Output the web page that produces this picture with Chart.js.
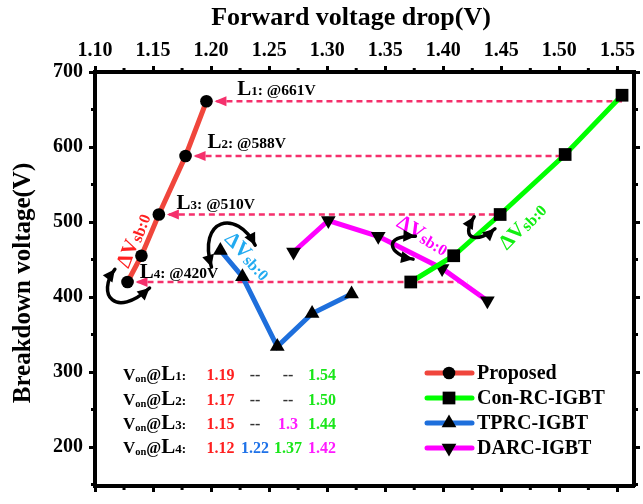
<!DOCTYPE html>
<html>
<head>
<meta charset="utf-8">
<script src="https://cdn.jsdelivr.net/npm/chart.js@4.4.0/dist/chart.umd.min.js"></script>
<style>
body { margin: 0; background: #fff; }
#wrap { width: 643px; height: 504px; }
</style>
</head>
<body>
<div id="wrap"><canvas id="chart"></canvas></div>
<script>
// values (x: forward voltage drop in V, y: breakdown voltage in V)
const proposedX = [1.128, 1.140, 1.155, 1.178, 1.196];
const proposedY = [420, 455, 510, 588, 661];
const conRcX = [1.372, 1.409, 1.449, 1.505, 1.554];
const conRcY = [420, 455, 510, 590, 669];
const tprcX = [1.208, 1.227, 1.257, 1.287, 1.321];
const tprcY = [462, 427, 334, 378, 404];
const darcX = [1.271, 1.301, 1.344, 1.399, 1.438];
const darcY = [460, 502, 481, 438, 395];

// breakdown levels L1..L4, dashed guides run from the proposed point to the right
const levelNames = ['1', '2', '3', '4'];
const levelV = [661, 588, 510, 420];
const levelStartX = [proposedX[4], proposedX[3], proposedX[2], proposedX[0]];
const levelEndX = [1.554, 1.505, 1.449, 1.421];

const xTicks = [1.10, 1.15, 1.20, 1.25, 1.30, 1.35, 1.40, 1.45, 1.50, 1.55];
const yTicks = [200, 300, 400, 500, 600, 700];

// Von table
const tableVals = [
  ['1.19', '--', '--', '1.54'],
  ['1.17', '--', '--', '1.50'],
  ['1.15', '--', '1.3', '1.44'],
  ['1.12', '1.22', '1.37', '1.42']
];
const tableCols = [
  ['red', 'dash', 'dash', 'green'],
  ['red', 'dash', 'dash', 'green'],
  ['red', 'dash', 'magenta', 'green'],
  ['red', 'blue', 'green', 'magenta']
];

const F = "'Liberation Serif', 'Times New Roman', serif";
const C = { red: '#ff1f1f', blue: '#1f72e8', green: '#19e619', magenta: '#ff19ff', dash: '#333' };
const pink = '#f5306c';

// text annotations, placed in data units
const levelLabels = [
  { x: 1.2226, y: 670 }, { x: 1.1969, y: 598.7 }, { x: 1.1703, y: 518 }, { x: 1.1386, y: 424.7 }
];
const dvLabels = [
  { x: 1.1321, y: 476, rot: -69, color: '#ff2020' },
  { x: 1.2324, y: 455.8, rot: 45.6, color: '#22aaf0' },
  { x: 1.3829, y: 483.8, rot: 30.5, color: '#ff00ff' },
  { x: 1.4673, y: 495.5, rot: -46, color: '#11ee11' }
];
const curveArrows = [
  [[1.1171, 437], [1.1010, 404], [1.1171, 370], [1.1470, 412]],
  [[1.2003, 440], [1.188, 505], [1.222, 518], [1.2380, 469]],
  [[1.3760, 481], [1.3470, 483], [1.3530, 456], [1.3740, 450.5]],
  [[1.4266, 507], [1.4130, 474], [1.4317, 473], [1.4445, 491]]
];

function pts(xs, ys) { return xs.map((x, i) => ({ x: x, y: ys[i] })); }

function series(label, xs, ys, color, style, r, rot) {
  return {
    label: label, data: pts(xs, ys), borderColor: color, backgroundColor: '#000',
    borderWidth: 5, pointStyle: style, pointRadius: r, pointRotation: rot || 0,
    pointBorderWidth: 0, pointBackgroundColor: '#000', pointHoverRadius: r, tension: 0
  };
}

const datasets = [
  series('Proposed', proposedX, proposedY, '#f0463c', 'circle', 6.3),
  series('Con-RC-IGBT', conRcX, conRcY, '#00ff00', 'rect', 9),
  series('TPRC-IGBT', tprcX, tprcY, '#1e6fdc', 'triangle', 8.5),
  series('DARC-IGBT', darcX, darcY, '#ff00ff', 'triangle', 8.5, 180)
];
levelV.forEach((v, i) => {
  datasets.push({
    label: 'L' + levelNames[i], data: [{ x: levelStartX[i], y: v }, { x: levelEndX[i], y: v }],
    borderColor: pink, borderWidth: 2.3, borderDash: [6, 4], pointRadius: 0
  });
});

function runs(ctx, x, y, parts, color) {
  let cx = x;
  for (const p of parts) {
    ctx.font = 'bold ' + p.s + 'px ' + F;
    ctx.fillStyle = p.c || color;
    ctx.fillText(p.t, cx, y + (p.dy || 0));
    cx += ctx.measureText(p.t).width;
  }
  return cx - x;
}
function runsWidth(ctx, parts) {
  let w = 0;
  for (const p of parts) { ctx.font = 'bold ' + p.s + 'px ' + F; w += ctx.measureText(p.t).width; }
  return w;
}
function marker(ctx, style, x, y, r, rot) {
  ctx.beginPath();
  if (style === 'circle') ctx.arc(x, y, r, 0, 2 * Math.PI);
  else if (style === 'rect') { const h = r * Math.SQRT1_2; ctx.rect(x - h, y - h, 2 * h, 2 * h); }
  else {
    let a = (rot || 0) * Math.PI / 180;
    for (let i = 0; i < 3; i++) {
      const px = x + Math.sin(a) * r, py = y - Math.cos(a) * r;
      if (i) ctx.lineTo(px, py); else ctx.moveTo(px, py);
      a += 2 * Math.PI / 3;
    }
    ctx.closePath();
  }
  ctx.fill();
}
function arrowHead(ctx, x, y, ang, len, hw) {
  ctx.beginPath();
  ctx.moveTo(x, y);
  ctx.lineTo(x - len * Math.cos(ang) + hw * Math.sin(ang), y - len * Math.sin(ang) - hw * Math.cos(ang));
  ctx.lineTo(x - len * Math.cos(ang) - hw * Math.sin(ang), y - len * Math.sin(ang) + hw * Math.cos(ang));
  ctx.closePath();
  ctx.fill();
}

const extras = {
  id: 'extras',
  afterDraw(chart) {
    const ctx = chart.ctx, sx = chart.scales.x, sy = chart.scales.y;
    const ca = chart.chartArea;
    const P = (a) => [sx.getPixelForValue(a[0]), sy.getPixelForValue(a[1])];
    ctx.save();
    ctx.textBaseline = 'alphabetic';
    ctx.textAlign = 'left';

    // minor ticks
    ctx.strokeStyle = '#000';
    ctx.lineWidth = 3;
    ctx.beginPath();
    for (let i = 0; i < xTicks.length; i++) {
      const v = xTicks[i] + 0.025;
      if (v > sx.max) break;
      const p = sx.getPixelForValue(v);
      ctx.moveTo(p, ca.top); ctx.lineTo(p, ca.top - 4);
      ctx.moveTo(p, ca.bottom); ctx.lineTo(p, ca.bottom + 4);
    }
    for (let v = 150; v <= 650; v += 100) {
      const p = sy.getPixelForValue(v);
      ctx.moveTo(ca.left, p); ctx.lineTo(ca.left - 4, p);
      ctx.moveTo(ca.right, p); ctx.lineTo(ca.right + 4, p);
    }
    ctx.stroke();

    // axis titles
    ctx.fillStyle = '#000';
    ctx.font = 'bold 26px ' + F;
    ctx.textAlign = 'center';
    ctx.textBaseline = 'middle';
    ctx.fillText('Forward voltage drop(V)', 351, 18);
    ctx.save();
    ctx.translate(24, 283);
    ctx.rotate(-Math.PI / 2);
    ctx.font = 'bold 25px ' + F;
    ctx.fillText('Breakdown voltage(V)', 0, 0);
    ctx.restore();
    ctx.textAlign = 'left';
    ctx.textBaseline = 'alphabetic';

    // arrowheads on the dashed guides
    ctx.fillStyle = pink;
    levelV.forEach((v, i) => {
      const x = sx.getPixelForValue(levelStartX[i]) + 8, y = sy.getPixelForValue(v);
      arrowHead(ctx, x, y, Math.PI, 12, 5);
    });

    // level labels
    levelLabels.forEach((l, i) => {
      const [x, y] = P([l.x, l.y]);
      runs(ctx, x, y, [
        { t: 'L', s: 21 }, { t: levelNames[i], s: 13 }, { t: ': @' + levelV[i] + 'V', s: 15.5 }
      ], '#000');
    });

    // ΔVsb:0 labels
    const dvParts = [{ t: 'ΔV', s: 21 }, { t: 'sb:0', s: 16, dy: 2 }];
    dvLabels.forEach(d => {
      const [x, y] = P([d.x, d.y]);
      const w = runsWidth(ctx, dvParts);
      ctx.save();
      ctx.translate(x, y);
      ctx.rotate(d.rot * Math.PI / 180);
      runs(ctx, -w / 2, 7, dvParts, d.color);
      ctx.restore();
    });

    // curved double arrows
    ctx.strokeStyle = '#000';
    ctx.fillStyle = '#000';
    ctx.lineWidth = 3.5;
    ctx.lineCap = 'round';
    curveArrows.forEach(c => {
      const p = c.map(P);
      ctx.beginPath();
      ctx.moveTo(p[0][0], p[0][1]);
      ctx.bezierCurveTo(p[1][0], p[1][1], p[2][0], p[2][1], p[3][0], p[3][1]);
      ctx.stroke();
      arrowHead(ctx, p[0][0], p[0][1], Math.atan2(p[0][1] - p[1][1], p[0][0] - p[1][0]), 12, 6);
      arrowHead(ctx, p[3][0], p[3][1], Math.atan2(p[3][1] - p[2][1], p[3][0] - p[2][0]), 12, 6);
    });

    // Von table
    const rowY = [380, 405, 429, 453];
    const colX = [220.5, 255, 288, 322];
    ctx.textAlign = 'left';
    rowY.forEach((y, r) => {
      runs(ctx, 123, y, [
        { t: 'V', s: 17 }, { t: 'on', s: 10.5, dy: 2 }, { t: '@', s: 16 },
        { t: 'L', s: 21 }, { t: levelNames[r] + ':', s: 13 }
      ], '#000');
      tableVals[r].forEach((t, c) => {
        ctx.font = 'bold 16px ' + F;
        ctx.fillStyle = C[tableCols[r][c]];
        ctx.textAlign = 'center';
        ctx.fillText(t, colX[c], y);
        ctx.textAlign = 'left';
      });
    });

    // legend
    const legY = [373, 398, 423, 448];
    chart.data.datasets.slice(0, 4).forEach((ds, i) => {
      const y = legY[i];
      ctx.strokeStyle = ds.borderColor;
      ctx.lineWidth = 5;
      ctx.lineCap = 'round';
      ctx.beginPath();
      ctx.moveTo(427, y); ctx.lineTo(472, y);
      ctx.stroke();
      ctx.fillStyle = '#000';
      marker(ctx, ds.pointStyle, 449, y, ds.pointRadius, ds.pointRotation);
      ctx.font = 'bold 20px ' + F;
      ctx.textBaseline = 'middle';
      ctx.fillText(ds.label, 477, y + 1);
      ctx.textBaseline = 'alphabetic';
    });
    ctx.restore();
  }
};

const tickFont = { family: F, size: 20, weight: 'bold' };
const axisGrid = { drawOnChartArea: false, drawTicks: true, tickLength: 6, tickWidth: 3, tickColor: '#000' };
const axisBorder = { display: true, color: '#000', width: 4 };

new Chart(document.getElementById('chart'), {
  type: 'line',
  data: { datasets: datasets },
  options: {
    responsive: true,
    maintainAspectRatio: false,
    animation: false,
    layout: { padding: 0 },
    plugins: { legend: { display: false }, tooltip: { enabled: false } },
    scales: {
      x: {
        type: 'linear', position: 'top', min: 1.10, max: 1.5643,
        afterBuildTicks: s => { s.ticks = xTicks.map(v => ({ value: v })); },
        ticks: { callback: v => v.toFixed(2), font: tickFont, color: '#000', padding: 3, maxRotation: 0, autoSkip: false },
        grid: axisGrid, border: axisBorder,
        afterFit: s => { s.height = 72; }
      },
      x2: {
        type: 'linear', position: 'bottom', min: 1.10, max: 1.5643,
        afterBuildTicks: s => { s.ticks = xTicks.map(v => ({ value: v })); },
        ticks: { display: false },
        grid: axisGrid, border: axisBorder,
        afterFit: s => { s.height = 7; }
      },
      y: {
        type: 'linear', position: 'left', min: 148, max: 700,
        afterBuildTicks: s => { s.ticks = yTicks.map(v => ({ value: v })); },
        ticks: { font: tickFont, color: '#000', padding: 6 },
        grid: axisGrid, border: axisBorder,
        afterFit: s => { s.width = 95; }
      },
      y2: {
        type: 'linear', position: 'right', min: 148, max: 700,
        afterBuildTicks: s => { s.ticks = yTicks.map(v => ({ value: v })); },
        ticks: { display: false },
        grid: axisGrid, border: axisBorder,
        afterFit: s => { s.width = 8; }
      }
    }
  },
  plugins: [extras]
});
</script>
</body>
</html>
